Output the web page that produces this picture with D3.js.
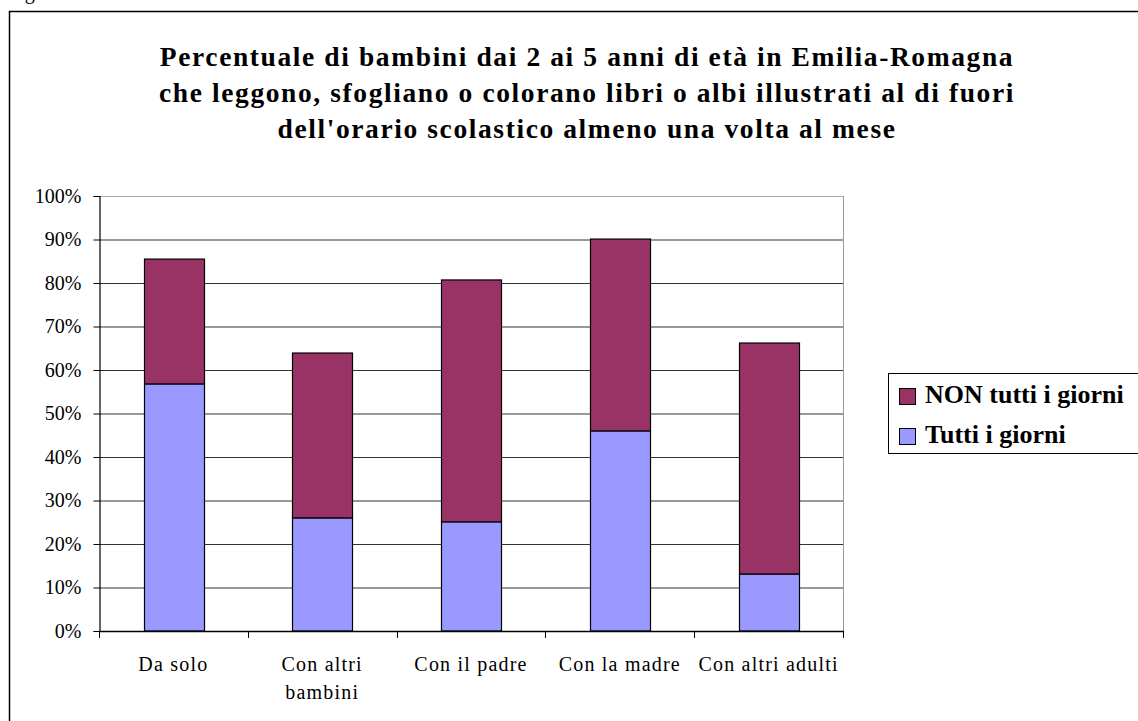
<!DOCTYPE html>
<html>
<head>
<meta charset="utf-8">
<script src="https://cdn.jsdelivr.net/npm/d3@7"></script>
<style>
  body { margin: 0; background: #fff; }
  svg { display: block; font-family: "Liberation Serif", "DejaVu Serif", serif; }
</style>
</head>
<body>
<div id="chart"></div>
<script>
// dati
const categories = ["Da solo", "Con altri bambini", "Con il padre", "Con la madre", "Con altri adulti"];
const catLines = [["Da solo"], ["Con altri", "bambini"], ["Con il padre"], ["Con la madre"], ["Con altri adulti"]];
const tuttiGiorni = [56.8, 26.0, 25.1, 46.0, 13.1];
const nonTutti = [28.7, 37.9, 55.6, 44.1, 53.1];
const yTicks = [0, 10, 20, 30, 40, 50, 60, 70, 80, 90, 100];
const seriesNames = ["NON tutti i giorni", "Tutti i giorni"];
const titleLines = [
  "Percentuale di bambini dai 2 ai 5 anni di età in Emilia-Romagna",
  "che leggono, sfogliano o colorano libri o albi illustrati al di fuori",
  "dell'orario scolastico almeno una volta al mese"
];

const W = 1138, H = 721;
const colors = { tutti: "#9999ff", non: "#993366" };

const svg = d3.select("#chart").append("svg").attr("width", W).attr("height", H);

// didascalia tagliata in alto
svg.append("text").attr("x", 8).attr("y", -1).attr("font-size", 20).text("Figura");

// cornice esterna
svg.append("rect").attr("x", 9.5).attr("y", 11.5).attr("width", 1200).attr("height", 800)
  .attr("fill", "none").attr("stroke", "#000").attr("stroke-width", 1.5);

// titolo
svg.append("g").selectAll("text").data(titleLines).join("text")
  .attr("x", 587).attr("y", (d, i) => 66 + i * 36)
  .attr("text-anchor", "middle").attr("font-size", 27.5).attr("font-weight", "bold")
  .attr("letter-spacing", 1.6)
  .text(d => d);

const plot = { left: 99, right: 843, top: 196, bottom: 631 };

const x = d3.scaleBand().domain(categories).range([plot.left, plot.right]).paddingInner(0.6).paddingOuter(0.3);
const xEdge = d3.scaleBand().domain(categories).range([plot.left, plot.right]);
const y = d3.scaleLinear().domain([0, 100]).range([plot.bottom, plot.top]);

// griglia
svg.append("g").selectAll("line").data(yTicks.filter(t => t > 0)).join("line")
  .attr("x1", plot.left).attr("x2", plot.right)
  .attr("y1", d => y(d) + 0.5).attr("y2", d => y(d) + 0.5)
  .attr("stroke", d => d === 100 ? "#aaa" : "#333").attr("stroke-width", 1);

// bordo destro area del grafico
svg.append("line").attr("x1", plot.right + 0.5).attr("x2", plot.right + 0.5)
  .attr("y1", plot.top).attr("y2", plot.bottom).attr("stroke", "#999");

// barre impilate
const stackData = categories.map((c, i) => ({ cat: c, tutti: tuttiGiorni[i], non: nonTutti[i] }));
const stack = d3.stack().keys(["tutti", "non"])(stackData);

svg.append("g").selectAll("g").data(stack).join("g")
  .attr("fill", d => colors[d.key])
  .selectAll("rect").data(d => d).join("rect")
  .attr("x", d => Math.round(x(d.data.cat)) + 0.5)
  .attr("width", Math.round(x.bandwidth()))
  .attr("y", d => y(d[1]))
  .attr("height", d => y(d[0]) - y(d[1]))
  .attr("stroke", "#000").attr("stroke-width", 1.2);

// asse y
const yAxis = svg.append("g").attr("transform", `translate(${plot.left + 0.5},0)`)
  .call(d3.axisLeft(y).tickValues(yTicks).tickFormat(d => d + "%").tickSize(6).tickPadding(12));
yAxis.select(".domain").attr("stroke", "#000").attr("stroke-width", 1.2);
yAxis.selectAll(".tick line").attr("stroke", "#000");
yAxis.selectAll("text").attr("font-size", 20).attr("font-family", "Liberation Serif").attr("fill", "#000");

// asse x
svg.append("line").attr("x1", plot.left).attr("x2", plot.right + 1)
  .attr("y1", plot.bottom + 0.5).attr("y2", plot.bottom + 0.5).attr("stroke", "#000").attr("stroke-width", 1.5);
const edges = categories.map(c => xEdge(c)).concat([plot.right]);
svg.append("g").selectAll("line").data(edges).join("line")
  .attr("x1", d => Math.round(d) + 0.5).attr("x2", d => Math.round(d) + 0.5)
  .attr("y1", plot.bottom).attr("y2", plot.bottom + 7).attr("stroke", "#000");

svg.append("g").selectAll("text").data(categories).join("text")
  .attr("x", d => xEdge(d) + xEdge.bandwidth() / 2)
  .attr("y", 671)
  .attr("text-anchor", "middle").attr("font-size", 20).attr("letter-spacing", 1.2)
  .each(function (d, i) {
    d3.select(this).selectAll("tspan").data(catLines[i]).join("tspan")
      .attr("x", xEdge(d) + xEdge.bandwidth() / 2)
      .attr("dy", (t, j) => j === 0 ? 0 : 28)
      .text(t => t);
  });

// legenda
const legend = svg.append("g");
legend.append("rect").attr("x", 888.5).attr("y", 373.5).attr("width", 300).attr("height", 80)
  .attr("fill", "#fff").attr("stroke", "#000");
const legColors = [colors.non, colors.tutti];
seriesNames.forEach((n, i) => {
  legend.append("rect").attr("x", 899.5).attr("y", 388.5 + i * 40).attr("width", 16).attr("height", 16)
    .attr("fill", legColors[i]).attr("stroke", "#000");
  legend.append("text").attr("x", 925).attr("y", 403 + i * 40)
    .attr("font-size", 26).attr("font-weight", "bold").text(n);
});
</script>
</body>
</html>
